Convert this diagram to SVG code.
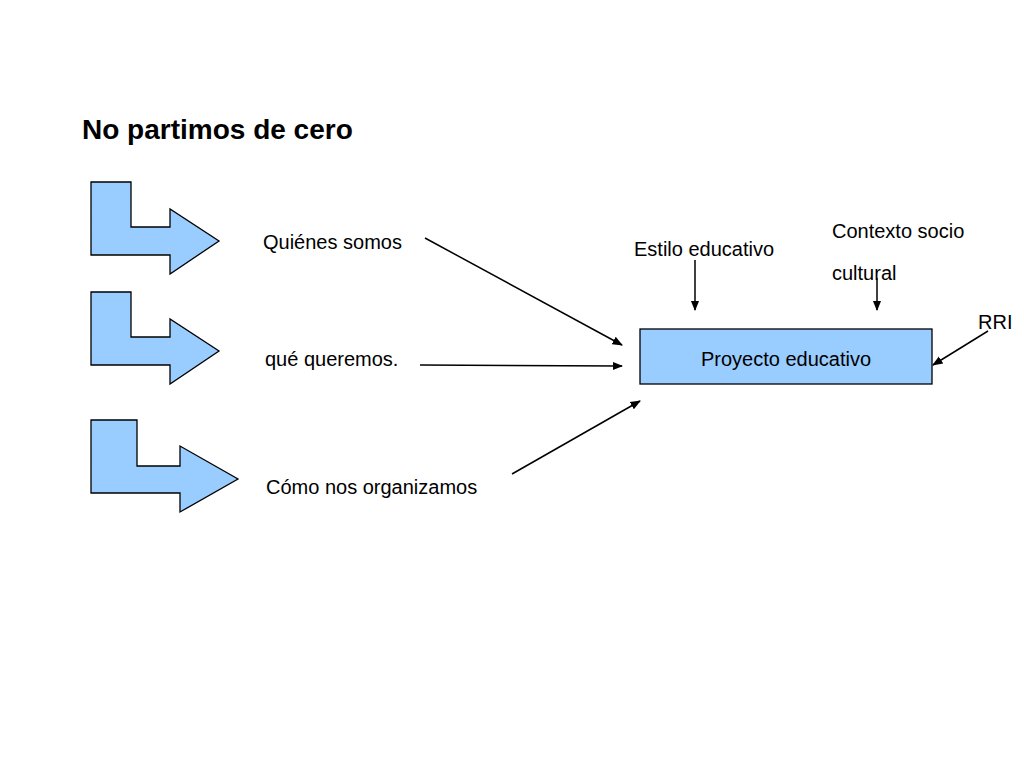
<svg xmlns="http://www.w3.org/2000/svg" width="1024" height="768" viewBox="0 0 1024 768">
<style>
.s{fill:#99ccff;stroke:#000;stroke-width:1.3}
.t{font-family:"Liberation Sans",Arial,sans-serif;font-size:20px;fill:#000}
.c{stroke:#000;stroke-width:1.5;fill:none;marker-end:url(#a)}
</style>
<defs><marker id="a" viewBox="0 0 10 10" refX="9" refY="5" markerWidth="7" markerHeight="7" orient="auto"><path d="M0,1 L10,5 L0,9 Z" fill="#000"/></marker></defs>
<rect width="1024" height="768" fill="#fff"/>
<text x="82" y="139" font-family="Liberation Sans,Arial,sans-serif" font-size="28" font-weight="bold">No partimos de cero</text>
<g id="b1"><path class="s" d="M91,182 H131 V227 H170 V209 L219,241 L170,274 V255 H91 Z"/></g>
<g id="b2"><path class="s" d="M91,292 H131 V337 H170 V319 L219,351 L170,384 V365 H91 Z"/></g>
<g id="b3"><path class="s" d="M91,420 H137 V466 H180 V446 L238,479 L180,512 V493 H91 Z"/></g>
<g id="n1"><text class="t" x="263" y="249">Quiénes  somos</text></g>
<g id="n2"><text class="t" x="265" y="366">qué queremos.</text></g>
<g id="n3"><text class="t" x="266" y="494">Cómo nos organizamos</text></g>
<g id="n4"><text class="t" x="634" y="256">Estilo educativo</text></g>
<g id="n5"><text class="t" x="832" y="238">Contexto socio</text><text class="t" x="832" y="280">cultural</text></g>
<g id="n6"><text class="t" x="978" y="329">RRI</text></g>
<g id="n7"><rect x="640" y="329" width="292" height="55" fill="#99ccff" stroke="#000" stroke-width="1.3"/><text class="t" x="786" y="366" text-anchor="middle">Proyecto educativo</text></g>
<g id="connectors">
<line class="c" x1="425" y1="238" x2="622" y2="345"/>
<line class="c" x1="420" y1="365" x2="622" y2="366"/>
<line class="c" x1="512" y1="474" x2="640" y2="401"/>
<line class="c" x1="695" y1="260" x2="695" y2="310"/>
<line class="c" x1="877" y1="278" x2="877" y2="310"/>
<line class="c" x1="988" y1="331" x2="933" y2="365"/>
</g>
</svg>
